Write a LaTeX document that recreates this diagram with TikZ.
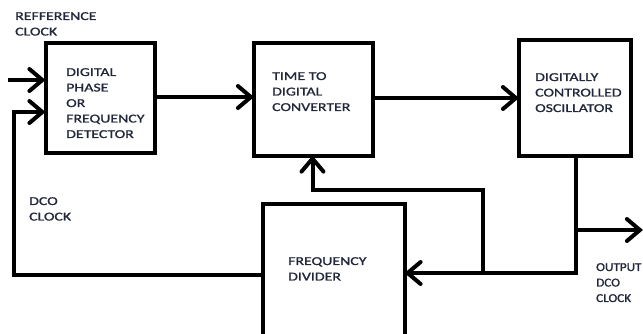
\documentclass[tikz,border=0pt]{standalone}
\usepackage{fontspec}
\setmainfont[FakeStretch=1.32,FakeBold=1.2]{Carlito}
\newfontfamily\narrowfont[FakeStretch=1.1,FakeBold=1.2]{Carlito}
\usetikzlibrary{arrows.meta}
\definecolor{txt}{RGB}{34,38,58}
\tikzset{
  box/.style={draw=black, line width=4pt, outer sep=0pt, inner sep=0pt},
  wire/.style={draw=black, line width=4pt},
  arr/.style={wire, -{Straight Barb[length=13pt,width=22pt,line cap=round]}},
  lbl/.style={anchor=north west, inner sep=0pt, align=left, text=txt,
    font=\fontsize{12}{15.5}\selectfont}
}
\begin{document}
\begin{tikzpicture}[x=1pt,y=-1pt]
\useasboundingbox (0,0) rectangle (643,333);
\clip (0,0) rectangle (643,333);
% blocks
\node[box, minimum width=109pt, minimum height=110pt] (pfd) at (100,98) {};
\node[box, minimum width=119pt, minimum height=113pt] (tdc) at (313.5,99) {};
\node[box, minimum width=112pt, minimum height=115.5pt] (dco) at (575,97.75) {};
\node[box, minimum width=142pt, minimum height=141pt] (div) at (333.5,274.5) {};
% texts
\node[lbl] (t1) at (15,12) {REFFERENCE\\CLOCK};
\node[lbl] (t2) at (66,68) {DIGITAL\\PHASE\\OR\\FREQUENCY\\DETECTOR};
\node[lbl] (t3) at (272,72) {TIME TO\\DIGITAL\\CONVERTER};
\node[lbl] (t4) at (535,73) {DIGITALLY\\CONTROLLED\\OSCILLATOR};
\node[lbl] (t5) at (29,197) {DCO\\CLOCK};
\node[lbl] (t6) at (288,257) {FREQUENCY\\DIVIDER};
\node[lbl, font=\narrowfont\fontsize{12}{15.5}\selectfont] (t7) at (596,263) {OUTPUT\\DCO\\CLOCK};
% helper points
\coordinate (refin) at (8,80);
\coordinate (fbin) at (14,112);
\coordinate (fbout) at (14,275);
\coordinate (pfdout) at (154.5,97);
\coordinate (tdcout) at (373,98);
\coordinate (dcodown) at (576,273);
\coordinate (br) at (483,273);
\coordinate (brtop) at (483,190);
\coordinate (brleft) at (312.5,190);
\coordinate (outsplit) at (576,230);
\coordinate (outend) at (643,230);
% connectors
\draw[arr] (refin) -- (refin -| pfd.west);
\draw[arr] (fbout -| div.west) -- (fbout) -- (fbin) -- (fbin -| pfd.west);
\draw[arr] (pfdout) -- (pfdout -| tdc.west);
\draw[arr] (tdcout) -- (tdcout -| dco.west);
\draw[arr] (dcodown |- dco.south) -- (dcodown) -- (dcodown -| div.east);
\draw[arr] (br) -- (brtop) -- (brleft) -- (brleft |- tdc.south);
\draw[arr] (outsplit) -- (outend);
\end{tikzpicture}
\end{document}
